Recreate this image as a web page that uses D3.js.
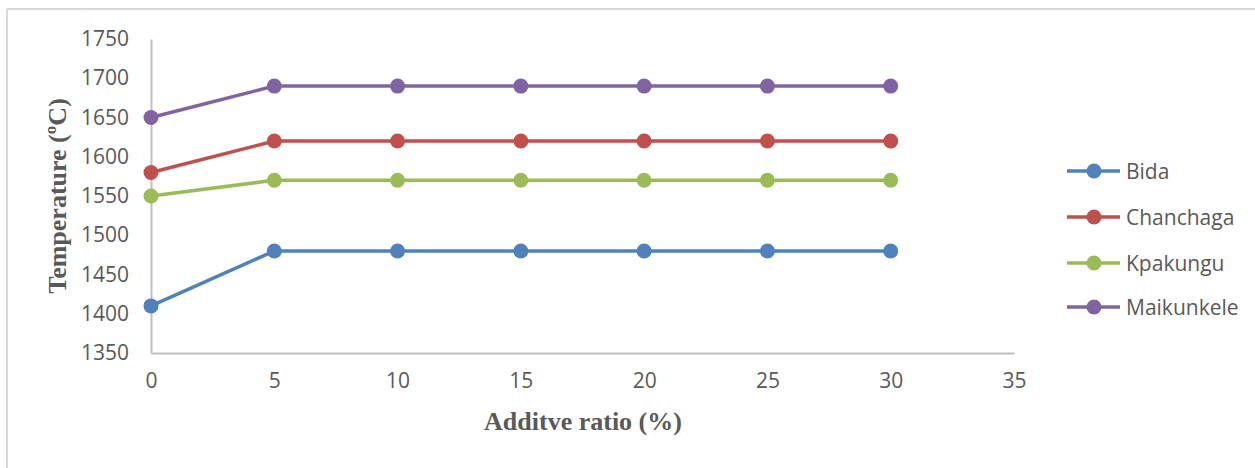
<!DOCTYPE html>
<html><head><meta charset="utf-8">
<script src="https://cdn.jsdelivr.net/npm/d3@7"></script>
<style>body{margin:0;background:#fff}svg{display:block}</style>
</head><body><svg id="c" width="1255" height="468"></svg>
<script>
const xValues = [0, 5, 10, 15, 20, 25, 30];
const seriesNames = ["Bida", "Chanchaga", "Kpakungu", "Maikunkele"];
const bida = [1410, 1480, 1480, 1480, 1480, 1480, 1480];
const chanchaga = [1580, 1620, 1620, 1620, 1620, 1620, 1620];
const kpakungu = [1550, 1570, 1570, 1570, 1570, 1570, 1570];
const maikunkele = [1650, 1690, 1690, 1690, 1690, 1690, 1690];
const colors = ["#4F81BD", "#C0504D", "#9BBB59", "#8064A2"];
const xTicks = [0, 5, 10, 15, 20, 25, 30, 35];
const yTicks = [1350, 1400, 1450, 1500, 1550, 1600, 1650, 1700, 1750];
const series = [bida, chanchaga, kpakungu, maikunkele];

const svg = d3.select("#c");
const sansFont = "'Open Sans', sans-serif";
const serifFont = "'Liberation Serif', 'Times New Roman', serif";
// outer frame (top and left visible)
svg.append("line").attr("x1",7).attr("x2",1255).attr("y1",9).attr("y2",9).attr("stroke","#d9d9d9").attr("stroke-width",2);
svg.append("line").attr("x1",7).attr("x2",7).attr("y1",9).attr("y2",468).attr("stroke","#d9d9d9").attr("stroke-width",2);

const x = d3.scaleLinear().domain([0,35]).range([151,1014]);
const y = d3.scaleLinear().domain([1350,1750]).range([353,39]);

const xAxis = svg.append("g").attr("transform","translate(0,353)")
  .call(d3.axisBottom(x).tickValues(xTicks).tickFormat(d3.format("d")).tickSize(0).tickPadding(20));
const yAxis = svg.append("g").attr("transform","translate(151,0)")
  .call(d3.axisLeft(y).tickValues(yTicks).tickFormat(d3.format("d")).tickSize(0).tickPadding(22));
[xAxis,yAxis].forEach(a=>{
  a.select(".domain").attr("stroke","#bfbfbf").attr("stroke-width",2);
  a.selectAll("text").attr("fill","#595959").attr("font-family",sansFont).attr("font-size",21);
});

svg.append("text").attr("x",583).attr("y",430).attr("text-anchor","middle")
  .attr("font-family",serifFont).attr("font-weight","bold")
  .attr("font-size",26).attr("fill","#595959").text("Additve ratio (%)");
svg.append("text").attr("transform","translate(66,196) rotate(-90)").attr("text-anchor","middle")
  .attr("font-family",serifFont).attr("font-weight","bold")
  .attr("font-size",26).attr("fill","#595959").text("Temperature (ºC)");

const line = d3.line().x((d,i)=>x(xValues[i])).y(d=>y(d));
series.forEach((s,k)=>{
  const g = svg.append("g");
  g.append("path").attr("d",line(s)).attr("fill","none").attr("stroke",colors[k]).attr("stroke-width",3.5);
  g.selectAll("circle").data(s).join("circle")
    .attr("cx",(d,i)=>x(xValues[i])).attr("cy",d=>y(d)).attr("r",7.5).attr("fill",colors[k]);
});

const legY = [171, 217, 263, 307];
seriesNames.forEach((n,k)=>{
  const g = svg.append("g").attr("transform",`translate(0,${legY[k]})`);
  g.append("line").attr("x1",1067).attr("x2",1120).attr("stroke",colors[k]).attr("stroke-width",3.5);
  g.append("circle").attr("cx",1094).attr("r",7.5).attr("fill",colors[k]);
  g.append("text").attr("x",1126).attr("y",7.5).attr("fill","#595959")
    .attr("font-family",sansFont).attr("font-size",21).text(n);
});
</script></body></html>
